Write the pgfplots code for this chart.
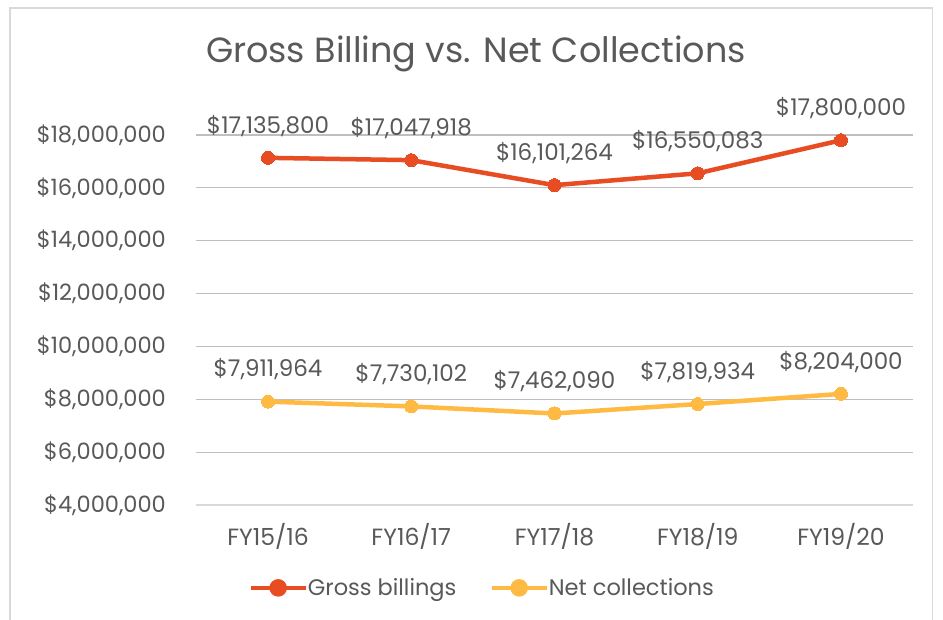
\documentclass[border=0pt]{standalone}
\usepackage{fontspec}
\setmainfont{Poppins}
\usepackage{pgfplots}
\pgfplotsset{compat=1.18}
\definecolor{gross}{HTML}{E84C22}
\definecolor{net}{HTML}{FFBA44}
\definecolor{txt}{HTML}{595959}
\definecolor{grid}{HTML}{D9D9D9}
\definecolor{frame}{HTML}{D9D9D9}
\begin{document}
\begin{tikzpicture}[x=1pt,y=1pt]
\useasboundingbox (0,0) rectangle (943,620);
\fill[white] (0,0) rectangle (943,620);
\draw[frame, line width=1.5pt] (10,-5) -- (10,612) -- (932.5,612) -- (932.5,-5);
\node[txt, font=\fontsize{35}{40}\selectfont] at (476,566) {Gross Billing vs. Net Collections};
\begin{axis}[
  at={(196.4pt,115pt)}, anchor=south west,
  scale only axis, width=716.2pt, height=370pt,
  xmin=-0.5, xmax=4.5, ymin=4000000, ymax=18000000,
  xtick={0,1,2,3,4},
  xticklabels={FY15/16,FY16/17,FY17/18,FY18/19,FY19/20},
  ytick={4000000,6000000,8000000,10000000,12000000,14000000,16000000,18000000},
  yticklabels={{\$4,000,000},{\$6,000,000},{\$8,000,000},{\$10,000,000},{\$12,000,000},{\$14,000,000},{\$16,000,000},{\$18,000,000}},
  scaled y ticks=false,
  xmajorgrids=false, ymajorgrids=true,
  major grid style={grid, line width=1.2pt},
  axis x line*=bottom, axis y line*=left,
  x axis line style={grid, line width=1.2pt, -},
  y axis line style={draw=none},
  major tick length=0pt,
  tick label style={txt},
  xticklabel style={font=\fontsize{23.5}{27}\selectfont, yshift=-15pt},
  yticklabel style={font=\fontsize{22.5}{26}\selectfont, xshift=-27pt},
  clip=false,
  nodes near coords,
  point meta=explicit symbolic,
  every node near coord/.append style={txt, font=\fontsize{23}{26}\selectfont, yshift=18pt},
  legend columns=2,
  legend style={at={(0.399,-0.224)}, anchor=center, draw=none, fill=none,
    font=\fontsize{22.5}{26}\selectfont, text=txt, inner sep=0pt,
    /tikz/every odd column/.append style={column sep=-2pt},
    /tikz/every even column/.append style={column sep=31pt}},
  legend image code/.code={\draw[#1, line width=4.5pt] (-10pt,0pt) -- (45pt,0pt); \fill[#1] (17.5pt,0pt) circle (6.5pt);},
]
\addplot[gross, line width=4.5pt, mark=*, mark size=6.5pt, mark options={fill=gross, draw=gross, line width=0pt}]
  coordinates {(0,17135800)[\$17,135,800] (1,17047918)[\$17,047,918] (2,16101264)[\$16,101,264] (3,16550083)[\$16,550,083] (4,17800000)[\$17,800,000]};
\addlegendentry{Gross billings}
\addplot[net, line width=4.5pt, mark=*, mark size=6.5pt, mark options={fill=net, draw=net, line width=0pt}]
  coordinates {(0,7911964)[\$7,911,964] (1,7730102)[\$7,730,102] (2,7462090)[\$7,462,090] (3,7819934)[\$7,819,934] (4,8204000)[\$8,204,000]};
\addlegendentry{Net collections}
\end{axis}
\end{tikzpicture}
\end{document}
